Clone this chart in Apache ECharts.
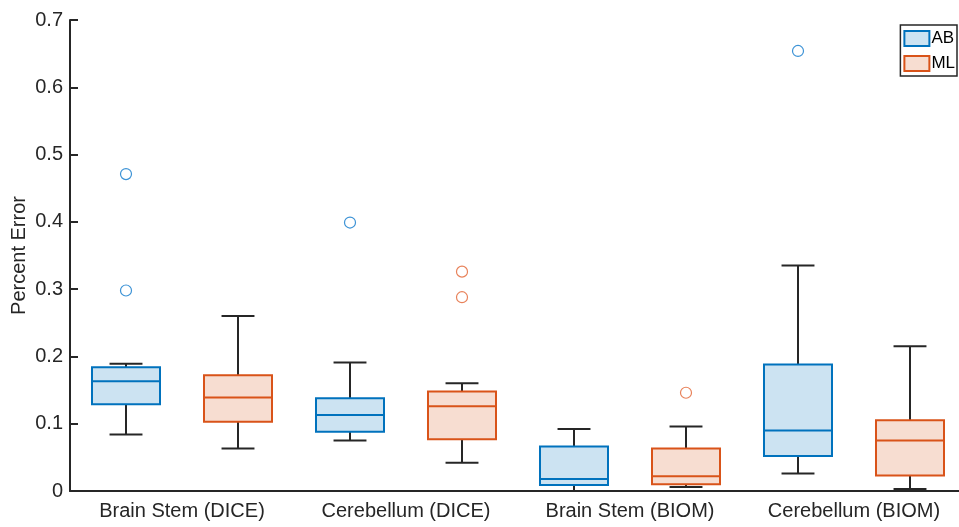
<!DOCTYPE html>
<html>
<head>
<meta charset="utf-8">
<script src="https://cdn.jsdelivr.net/npm/echarts@6/dist/echarts.min.js"></script>
<style>html,body{margin:0;padding:0;background:#fff;}#c{width:959px;height:527px;}</style>
</head>
<body>
<div id="c"></div>
<script>
const categories = ['Brain Stem (DICE)', 'Cerebellum (DICE)', 'Brain Stem (BIOM)', 'Cerebellum (BIOM)'];
const yTicks = [0, 0.1, 0.2, 0.3, 0.4, 0.5, 0.6, 0.7];

const abMin    = [0.084, 0.075, 0.000, 0.026];
const abQ1     = [0.129, 0.088, 0.009, 0.052];
const abMedian = [0.163, 0.113, 0.018, 0.090];
const abQ3     = [0.184, 0.138, 0.066, 0.188];
const abMax    = [0.189, 0.191, 0.092, 0.335];
const abOutliers = [[0.471, 0.298], [0.399], [], [0.654]];

const mlMin    = [0.063, 0.042, 0.006, 0.003];
const mlQ1     = [0.103, 0.077, 0.010, 0.023];
const mlMedian = [0.139, 0.126, 0.022, 0.075];
const mlQ3     = [0.172, 0.148, 0.063, 0.105];
const mlMax    = [0.260, 0.160, 0.096, 0.215];
const mlOutliers = [[], [0.326, 0.288], [0.146], []];

const AB_COLOR = '#0072BD', AB_FILL = '#CCE3F2', AB_OUT = '#3D93D6';
const ML_COLOR = '#D95319', ML_FILL = '#F7DDD1', ML_OUT = '#E8825A';
const WHISKER = '#262626';
const FONT = 'Liberation Sans, Arial, Helvetica, sans-serif';

function boxRows(mn, q1, md, q3, mx) {
  return categories.map((c, i) => [i, mn[i], q1[i], md[i], q3[i], mx[i]]);
}
function outRows(outs) {
  const rows = [];
  outs.forEach((arr, i) => arr.forEach(v => rows.push([i, v])));
  return rows;
}

function boxRender(color, fill, side) {
  return function (params, api) {
    const c = api.value(0);
    const band = api.size([1, 0])[0];
    const xc = api.coord([c, 0])[0] + side * band * 0.25;
    const bw = band * 0.3036;
    const cw = band * 0.147;
    const y = i => api.coord([c, api.value(i)])[1];
    const yMin = y(1), yQ1 = y(2), yMed = y(3), yQ3 = y(4), yMax = y(5);
    const ws = { stroke: WHISKER, lineWidth: 2 };
    return {
      type: 'group',
      children: [
        { type: 'line', shape: { x1: xc, y1: yQ3, x2: xc, y2: yMax }, style: ws },
        { type: 'line', shape: { x1: xc - cw / 2, y1: yMax, x2: xc + cw / 2, y2: yMax }, style: ws },
        { type: 'line', shape: { x1: xc, y1: yQ1, x2: xc, y2: yMin }, style: ws },
        { type: 'line', shape: { x1: xc - cw / 2, y1: yMin, x2: xc + cw / 2, y2: yMin }, style: ws },
        { type: 'rect', shape: { x: xc - bw / 2, y: yQ3, width: bw, height: yQ1 - yQ3 },
          style: { fill: fill, stroke: color, lineWidth: 2 } },
        { type: 'line', shape: { x1: xc - bw / 2, y1: yMed, x2: xc + bw / 2, y2: yMed },
          style: { stroke: color, lineWidth: 2 } }
      ]
    };
  };
}
function outRender(color, side) {
  return function (params, api) {
    const c = api.value(0);
    const band = api.size([1, 0])[0];
    const p = api.coord([c, api.value(1)]);
    return {
      type: 'circle',
      shape: { cx: p[0] + side * band * 0.25, cy: p[1], r: 5.5 },
      style: { fill: 'none', stroke: color, lineWidth: 1.2 }
    };
  };
}

const chart = echarts.init(document.getElementById('c'), null, { renderer: 'canvas' });
chart.setOption({
  animation: false,
  backgroundColor: '#fff',
  textStyle: { fontFamily: FONT },
  grid: { left: 70, right: -7, top: 20, bottom: 36, containLabel: false, outerBoundsMode: 'none' },
  legend: {
    orient: 'vertical',
    right: 2,
    top: 25,
    padding: [5, 2, 4, 3],
    itemGap: 8,
    itemWidth: 25,
    itemHeight: 15,
    backgroundColor: '#fff',
    borderColor: WHISKER,
    borderWidth: 1.5,
    borderRadius: 0,
    textStyle: { fontSize: 17, color: '#000', fontFamily: FONT, padding: [0, 0, 0, -3] },
    data: [
      { name: 'AB', icon: 'rect', itemStyle: { color: AB_FILL, borderColor: AB_COLOR, borderWidth: 2 } },
      { name: 'ML', icon: 'rect', itemStyle: { color: ML_FILL, borderColor: ML_COLOR, borderWidth: 2 } }
    ]
  },
  xAxis: {
    type: 'category',
    data: categories,
    axisLine: { lineStyle: { color: WHISKER, width: 2 } },
    axisTick: { inside: true, length: 8, alignWithLabel: true, lineStyle: { color: WHISKER, width: 2 } },
    axisLabel: { fontSize: 20, color: WHISKER, margin: 10, fontFamily: FONT },
    splitLine: { show: false }
  },
  yAxis: {
    type: 'value',
    min: yTicks[0],
    max: yTicks[yTicks.length - 1],
    interval: 0.1,
    name: 'Percent Error',
    nameLocation: 'middle',
    nameRotate: 90,
    nameGap: 41,
    nameMoveOverlap: false,
    nameTextStyle: { fontSize: 20, color: WHISKER, fontFamily: FONT },
    axisLine: { show: true, lineStyle: { color: WHISKER, width: 2 } },
    axisTick: { show: true, inside: true, length: 8, lineStyle: { color: WHISKER, width: 2 } },
    axisLabel: {
      fontSize: 20, color: WHISKER, margin: 7, fontFamily: FONT,
      formatter: v => (Math.abs(v) < 1e-9 ? '0' : v.toFixed(1))
    },
    splitLine: { show: false }
  },
  series: [
    { name: 'AB', type: 'custom', itemStyle: { color: AB_FILL, borderColor: AB_COLOR },
      renderItem: boxRender(AB_COLOR, AB_FILL, -1), data: boxRows(abMin, abQ1, abMedian, abQ3, abMax),
      encode: { x: 0, y: [1, 2, 3, 4, 5] }, clip: false },
    { name: 'ML', type: 'custom', itemStyle: { color: ML_FILL, borderColor: ML_COLOR },
      renderItem: boxRender(ML_COLOR, ML_FILL, 1), data: boxRows(mlMin, mlQ1, mlMedian, mlQ3, mlMax),
      encode: { x: 0, y: [1, 2, 3, 4, 5] }, clip: false },
    { name: 'AB', type: 'custom', renderItem: outRender(AB_OUT, -1), data: outRows(abOutliers),
      encode: { x: 0, y: 1 }, clip: false },
    { name: 'ML', type: 'custom', renderItem: outRender(ML_OUT, 1), data: outRows(mlOutliers),
      encode: { x: 0, y: 1 }, clip: false }
  ]
});
</script>
</body>
</html>
